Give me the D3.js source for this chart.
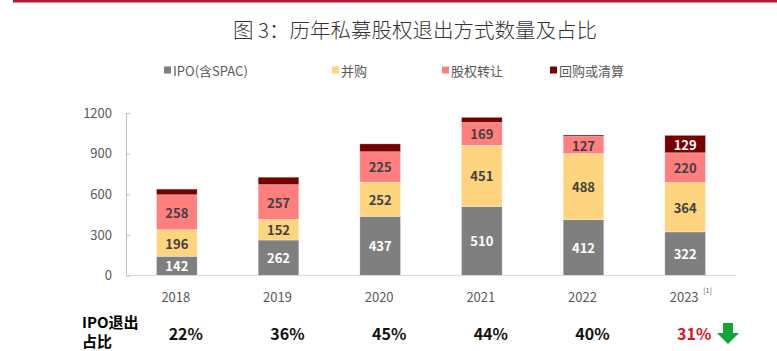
<!DOCTYPE html>
<html>
<head>
<meta charset="utf-8">
<script src="https://cdn.jsdelivr.net/npm/d3@7"></script>
<style>
  body { margin: 0; background: #fff; }
  svg { display: block; font-family: "Noto Sans CJK SC", "Noto Sans", sans-serif; }
</style>
</head>
<body>
<div id="chart"></div>
<script>
// data
const years = ['2018', '2019', '2020', '2021', '2022', '2023'];
const seriesNames = ['IPO(含SPAC)', '并购', '股权转让', '回购或清算'];
const ipo = [142, 262, 437, 510, 412, 322];
const ma = [196, 152, 252, 451, 488, 364];
const transfer = [258, 257, 225, 169, 127, 220];
const buyback = [42, 55, 58, 38, 10, 129];
const ipoShare = ['22%', '36%', '45%', '44%', '40%', '31%'];
const yTicks = [0, 300, 600, 900, 1200];

const colors = ['#7f7f7f', '#ffd47f', '#ff7f7f', '#760000'];
const labelColors = ['#ffffff', '#404040', '#404040', '#ffffff'];

let width = 777, height = 351;
let margin = { top: 113, bottom: 75.5, left: 126, right: 41 };

let svg = d3.select('#chart')
  .append('svg')
    .attr('width', width)
    .attr('height', height);

// red rule on top
svg.append('rect')
  .attr('x', 13).attr('y', 0)
  .attr('width', width - 13).attr('height', 2.5)
  .attr('fill', '#ad1a3c');

// title
svg.append('text')
  .attr('x', 415).attr('y', 29)
  .attr('text-anchor', 'middle')
  .attr('dominant-baseline', 'central')
  .style('font-size', '20.5px')
  .style('font-weight', 300)
  .style('fill', '#333')
  .text('图 3：历年私募股权退出方式数量及占比');

// legend
let legendX = [164, 332, 442, 550];
let legend = svg.append('g');
seriesNames.forEach((name, i) => {
  legend.append('rect')
    .attr('x', legendX[i]).attr('y', 66.5)
    .attr('width', 7).attr('height', 7)
    .attr('fill', colors[i]);
  legend.append('text')
    .attr('x', legendX[i] + 9).attr('y', 70)
    .attr('dominant-baseline', 'central')
    .style('font-size', '13px')
    .style('fill', '#595959')
    .text(name);
});

let x = d3.scaleBand()
  .domain(years)
  .range([margin.left, width - margin.right])
  .paddingInner(0.6)
  .paddingOuter(0.3);

let y = d3.scaleLinear()
  .domain([0, 1200])
  .range([height - margin.bottom, margin.top]);

// y axis
let yAxis = svg.append('g')
  .attr('transform', 'translate(' + margin.left + ',0)')
  .call(d3.axisRight(y).tickValues(yTicks).tickSize(4).tickFormat(d3.format('d')));
yAxis.select('.domain').attr('stroke', '#bfbfbf');
yAxis.selectAll('.tick line').attr('stroke', '#bfbfbf');
yAxis.selectAll('.tick text')
  .attr('x', -14)
  .attr('text-anchor', 'end')
  .style('font-size', '13px')
  .style('font-family', '"Noto Sans CJK SC", sans-serif')
  .style('fill', '#595959');

// stacked bars
let table = years.map((yr, i) => ({ year: yr, s0: ipo[i], s1: ma[i], s2: transfer[i], s3: buyback[i] }));
let stack = d3.stack().keys(['s0', 's1', 's2', 's3']);
let layers = stack(table);

let groups = svg.selectAll('g.layer')
  .data(layers)
  .enter()
  .append('g')
    .attr('class', 'layer')
    .attr('fill', (d, i) => colors[i]);

groups.selectAll('rect')
  .data(d => d)
  .enter()
  .append('rect')
    .attr('x', d => x(d.data.year))
    .attr('y', d => y(d[1]))
    .attr('width', x.bandwidth())
    .attr('height', d => y(d[0]) - y(d[1]))
    .attr('stroke', '#ffffff')
    .attr('stroke-opacity', 0.5)
    .attr('stroke-width', 0.6);

// value labels (small buyback slices are left unlabelled)
layers.forEach((layer, i) => {
  svg.append('g').selectAll('text')
    .data(layer.filter(d => d[1] - d[0] >= 100))
    .enter()
    .append('text')
      .attr('x', d => x(d.data.year) + x.bandwidth() / 2)
      .attr('y', d => y((d[0] + d[1]) / 2))
      .attr('text-anchor', 'middle')
      .attr('dominant-baseline', 'central')
      .style('font-size', '13px')
      .style('font-weight', 'bold')
      .style('fill', labelColors[i])
      .text(d => d[1] - d[0]);
});

// x axis line
svg.append('line')
  .attr('x1', margin.left).attr('x2', width - margin.right + 0.5)
  .attr('y1', y(0)).attr('y2', y(0))
  .attr('stroke', '#d9d9d9');

// year labels
svg.append('g').selectAll('text')
  .data(years)
  .enter()
  .append('text')
    .attr('x', d => x(d) + x.bandwidth() / 2 - 1)
    .attr('y', 296)
    .attr('text-anchor', 'middle')
    .attr('dominant-baseline', 'central')
    .style('font-size', '13px')
    .style('fill', '#595959')
    .text(d => d);

svg.append('text')
  .attr('x', x('2023') + x.bandwidth() / 2 + 18)
  .attr('y', 290)
  .attr('dominant-baseline', 'central')
  .style('font-size', '7px')
  .style('fill', '#595959')
  .text('[1]');

// IPO share row
svg.append('text')
  .attr('x', 82).attr('y', 321)
  .attr('dominant-baseline', 'central')
  .style('font-size', '15px')
  .style('font-weight', 'bold')
  .style('fill', '#000')
  .text('IPO退出');
svg.append('text')
  .attr('x', 82).attr('y', 340)
  .attr('dominant-baseline', 'central')
  .style('font-size', '15px')
  .style('font-weight', 'bold')
  .style('fill', '#000')
  .text('占比');

svg.append('g').selectAll('text')
  .data(ipoShare)
  .enter()
  .append('text')
    .attr('x', (d, i) => x(years[i]) + x.bandwidth() / 2 + 9)
    .attr('y', 333)
    .attr('text-anchor', 'middle')
    .attr('dominant-baseline', 'central')
    .style('font-size', '16px')
    .style('font-weight', 'bold')
    .style('fill', (d, i) => i === ipoShare.length - 1 ? '#d9141b' : '#111')
    .text(d => d);

// green down arrow next to the last share
let ax = 728, ay = 323;
svg.append('path')
  .attr('d', 'M' + (ax - 5) + ',' + ay + 'h10v10h6l-11,11l-11,-11h6z')
  .attr('fill', '#13a538');
</script>
</body>
</html>
